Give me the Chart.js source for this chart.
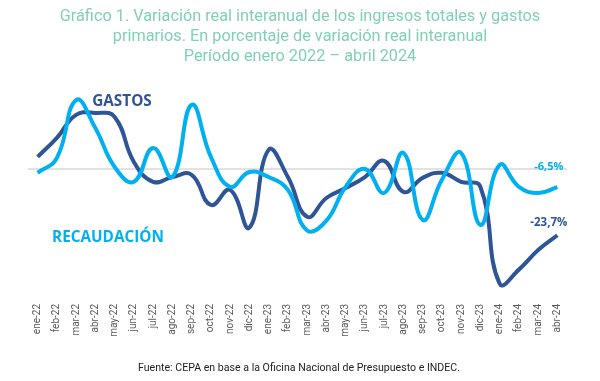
<!DOCTYPE html>
<html><head><meta charset="utf-8">
<script src="https://cdn.jsdelivr.net/npm/chart.js@4"></script>
<style>html,body{margin:0;padding:0;background:#fff;}canvas{display:block;}</style>
</head><body>
<canvas id="c" width="600" height="381"></canvas>
<script>
const months = ["ene-22","feb-22","mar-22","abr-22","may-22","jun-22","jul-22","ago-22","sep-22","oct-22","nov-22","dic-22","ene-23","feb-23","mar-23","abr-23","may-23","jun-23","jul-23","ago-23","sep-23","oct-23","nov-23","dic-23","ene-24","feb-24","mar-24","abr-24"];
const gastos = [4.3,11.1,19.3,20.0,18.6,2.5,-4.6,-2.9,-2.1,-12.9,-7.5,-21.0,6.8,-2.9,-17.1,-10.4,-6.8,-2.9,2.9,-8.2,-3.2,-1.4,-4.6,-6.4,-41.0,-36.0,-29.0,-23.7];
const recaudacion = [-1.4,3.9,24.6,14.6,0.7,-4.6,7.5,-2.9,22.9,4.3,-6.4,-1.1,-2.9,-7.5,-22.0,-18.5,-6.4,0.0,-8.6,5.7,-18.2,-3.9,5.7,-20.0,1.4,-6.4,-8.6,-6.5];
const titleLines = ["Gráfico 1. Variación real interanual de los ingresos totales y gastos","primarios. En porcentaje de variación real interanual","Período enero 2022 – abril 2024"];
const sourceText = "Fuente: CEPA en base a la Oficina Nacional de Presupuesto e INDEC.";
const seriesNames = ["GASTOS","RECAUDACIÓN"];
const endLabels = ["-23,7%","-6,5%"];

const DARK = "#2F5597", LIGHT = "#00B0F0";

const textPlugin = {
  id: "texts",
  beforeDatasetsDraw(chart) {
    const ctx = chart.ctx, y = chart.scales.y, a = chart.chartArea;
    ctx.save();
    ctx.strokeStyle = "#d9d9d9"; ctx.lineWidth = 1.5;
    const y0 = Math.round(y.getPixelForValue(0));
    ctx.beginPath(); ctx.moveTo(a.left, y0); ctx.lineTo(a.right, y0); ctx.stroke();
    ctx.restore();
  },
  afterDraw(chart) {
    const ctx = chart.ctx, x = chart.scales.x, y = chart.scales.y;
    ctx.save();
    ctx.textAlign = "center"; ctx.textBaseline = "middle";
    ctx.fillStyle = "#80D0B8"; ctx.font = "16.3px Roboto";
    titleLines.forEach((t,i)=>ctx.fillText(t, 300, 17 + i*20));
    ctx.fillStyle = "#222"; ctx.font = "10.6px Roboto";
    ctx.fillText(sourceText, 299, 368);
    ctx.font = "bold 15.3px 'Open Sans'";
    ctx.fillStyle = DARK; ctx.fillText(seriesNames[0], 122, 102);
    ctx.fillStyle = LIGHT; ctx.fillText(seriesNames[1], 108, 238);
    ctx.textAlign = "right"; ctx.font = "bold 11px 'Open Sans'";
    const lx = x.getPixelForValue(months.length-1) + 6;
    ctx.fillStyle = LIGHT; ctx.fillText(endLabels[1], lx, y.getPixelForValue(recaudacion[recaudacion.length-1]) - 20);
    ctx.font = "bold 11.5px 'Open Sans'";
    ctx.fillStyle = DARK; ctx.fillText(endLabels[0], lx + 4, y.getPixelForValue(gastos[gastos.length-1]) - 12);
    ctx.restore();
  }
};

new Chart(document.getElementById("c"), {
  type: "line",
  data: {
    labels: months,
    datasets: [
      {label: seriesNames[1], data: recaudacion, borderColor: LIGHT, borderWidth: 4, pointRadius: 0, tension: 0.45, fill: false},
      {label: seriesNames[0], data: gastos, borderColor: DARK, borderWidth: 4, pointRadius: 0, tension: 0.45, fill: false}
    ]
  },
  options: {
    responsive: false, animation: false, devicePixelRatio: 1,
    layout: {padding: {left: 28, right: 33, top: 85, bottom: 34}},
    plugins: {legend: {display: false}, tooltip: {enabled: false}},
    scales: {
      x: {
        offset: true,
        grid: {display: false}, border: {display: false},
        ticks: {maxRotation: 90, minRotation: 90, autoSkip: false, color: "#595959", font: {family: "Roboto", size: 10}, padding: 4},
        afterFit(s) { s.height = 55; }
      },
      y: {display: false, min: -44, max: 30}
    }
  },
  plugins: [textPlugin]
});
</script>
</body></html>
